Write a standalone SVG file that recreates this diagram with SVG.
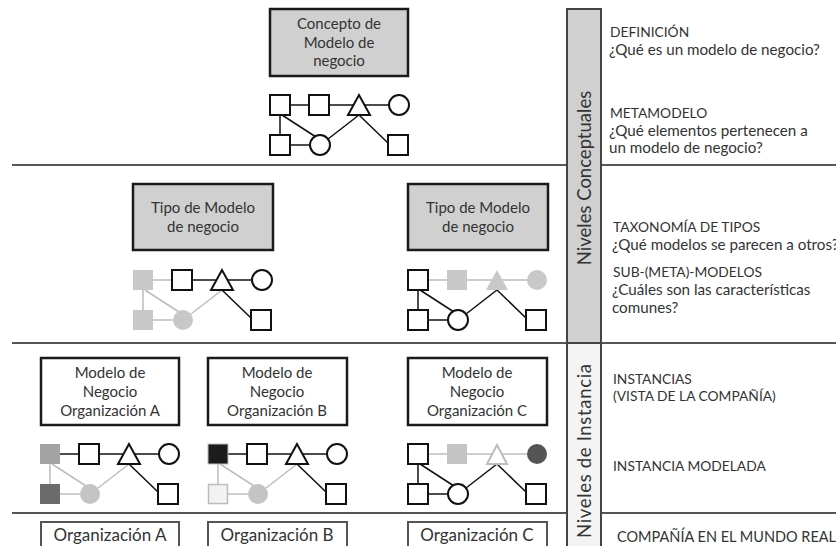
<svg xmlns="http://www.w3.org/2000/svg" width="836" height="546" viewBox="0 0 836 546">
  <style>
    text { font-family: Lato, "Open Sans", "Liberation Sans", sans-serif; fill: #333; }
    .bt { font-size: 15px; text-anchor: middle; }
    .rt { font-size: 13.8px; }
    .rq { font-size: 15.2px; }
    .vt { font-size: 18.5px; text-anchor: middle; }
    .ot { font-size: 17px; text-anchor: middle; }
    .sep { stroke: #555; stroke-width: 2; }
    .box { stroke: #1a1a1a; stroke-width: 2.5; }
    .gbox { fill: #d0d0d0; }
    .wbox { fill: #fff; }
    .obox { fill: #fff; stroke: #555; stroke-width: 2; }
    .k { fill: #fff; stroke: #111; stroke-width: 2; }
    .kl { stroke: #111; stroke-width: 1.5; fill: none; }
    .gl { stroke: #bdbdbd; stroke-width: 1.5; fill: none; }
  </style>

  <!-- level separators -->
  <g id="separators">
    <line class="sep" x1="12" y1="165" x2="836" y2="165"/>
    <line class="sep" x1="12" y1="343" x2="836" y2="343"/>
    <line class="sep" x1="12" y1="513" x2="836" y2="513"/>
  </g>

  <!-- vertical level bars -->
  <g id="bar-conceptual">
    <rect x="567" y="9" width="34" height="334" fill="#d0d0d0" stroke="#444" stroke-width="2"/>
    <text class="vt" transform="translate(591,178) rotate(-90)">Niveles Conceptuales</text>
  </g>
  <g id="bar-instance">
    <rect x="567" y="343" width="34" height="210" fill="#f4f4f4" stroke="#444" stroke-width="2"/>
    <text class="vt" transform="translate(591,451) rotate(-90)" textLength="174" lengthAdjust="spacing">Niveles de Instancia</text>
  </g>

  <!-- level descriptions -->
  <g id="descriptions">
    <text class="rt" x="610" y="37">DEFINICIÓN</text>
    <text class="rq" x="609" y="55">¿Qué es un modelo de negocio?</text>
    <text class="rt" x="610" y="118">METAMODELO</text>
    <text class="rq" x="609" y="136">¿Qué elementos pertenecen a</text>
    <text class="rq" x="609" y="153">un modelo de negocio?</text>
    <text class="rt" x="613" y="232">TAXONOMÍA DE TIPOS</text>
    <text class="rq" x="612" y="250">¿Qué modelos se parecen a otros?</text>
    <text class="rt" x="613" y="277">SUB-(META)-MODELOS</text>
    <text class="rq" x="612" y="295">¿Cuáles son las características</text>
    <text class="rq" x="612" y="313">comunes?</text>
    <text class="rt" x="613" y="384">INSTANCIAS</text>
    <text class="rt" x="613" y="401">(VISTA DE LA COMPAÑÍA)</text>
    <text class="rt" x="613" y="471">INSTANCIA MODELADA</text>
    <text class="rt" x="617" y="542" style="font-size:14.5px">COMPAÑÍA EN EL MUNDO REAL</text>
  </g>

  <!-- definition -->
  <g id="concepto">
    <rect class="box gbox" x="270" y="9" width="138" height="67"/>
    <text class="bt" x="339" y="29">Concepto de</text>
    <text class="bt" x="339" y="48">Modelo de</text>
    <text class="bt" x="339" y="66">negocio</text>
  </g>

  <!-- metamodel -->
  <g id="metamodelo" transform="translate(270,95)">
    <g class="kl">
      <line x1="20" y1="10" x2="39" y2="10"/>
      <line x1="59" y1="10" x2="84" y2="10"/>
      <line x1="94" y1="10" x2="119" y2="10"/>
      <line x1="10" y1="20" x2="10" y2="40"/>
      <line x1="12" y1="20" x2="46" y2="42"/>
      <line x1="20" y1="50" x2="40" y2="50"/>
      <line x1="58" y1="44" x2="89" y2="20"/>
      <line x1="89" y1="20" x2="118" y2="48"/>
    </g>
    <rect class="k" x="0" y="0" width="20" height="20"/>
    <rect class="k" x="39" y="0" width="20" height="20"/>
    <polygon class="k" points="89,0 78,20 100,20"/>
    <circle class="k" cx="129" cy="10" r="10"/>
    <rect class="k" x="0" y="40" width="20" height="20"/>
    <circle class="k" cx="50" cy="50" r="10"/>
    <rect class="k" x="118" y="40" width="20" height="20"/>
  </g>

  <!-- model types -->
  <g id="tipo-1">
    <rect class="box gbox" x="133" y="184" width="140" height="66"/>
    <text class="bt" x="203" y="213">Tipo de Modelo</text>
    <text class="bt" x="203" y="232">de negocio</text>
  </g>
  <g id="tipo-1-modelo" transform="translate(133,270)">
    <g class="gl">
      <line x1="20" y1="10" x2="39" y2="10"/>
      <line x1="10" y1="20" x2="10" y2="40"/>
      <line x1="12" y1="20" x2="46" y2="42"/>
      <line x1="20" y1="50" x2="40" y2="50"/>
      <line x1="58" y1="44" x2="89" y2="20"/>
    </g>
    <g class="kl">
      <line x1="59" y1="10" x2="84" y2="10"/>
      <line x1="94" y1="10" x2="119" y2="10"/>
      <line x1="89" y1="20" x2="118" y2="48"/>
    </g>
    <rect x="0" y="0" width="20" height="20" fill="#c8c8c8"/>
    <rect class="k" x="39" y="0" width="20" height="20"/>
    <polygon class="k" points="89,0 78,20 100,20"/>
    <circle class="k" cx="129" cy="10" r="10"/>
    <rect x="0" y="40" width="20" height="20" fill="#c8c8c8"/>
    <circle cx="50" cy="50" r="10" fill="#c8c8c8"/>
    <rect class="k" x="118" y="40" width="20" height="20"/>
  </g>

  <g id="tipo-2">
    <rect class="box gbox" x="408" y="184" width="140" height="66"/>
    <text class="bt" x="478" y="213">Tipo de Modelo</text>
    <text class="bt" x="478" y="232">de negocio</text>
  </g>
  <g id="tipo-2-modelo" transform="translate(408,270)">
    <g class="gl">
      <line x1="20" y1="10" x2="39" y2="10"/>
      <line x1="59" y1="10" x2="84" y2="10"/>
      <line x1="94" y1="10" x2="119" y2="10"/>
    </g>
    <g class="kl">
      <line x1="10" y1="20" x2="10" y2="40"/>
      <line x1="12" y1="20" x2="46" y2="42"/>
      <line x1="20" y1="50" x2="40" y2="50"/>
      <line x1="58" y1="44" x2="89" y2="20"/>
      <line x1="89" y1="20" x2="118" y2="48"/>
    </g>
    <rect class="k" x="0" y="0" width="20" height="20"/>
    <rect x="39" y="0" width="20" height="20" fill="#c8c8c8"/>
    <polygon points="89,0 78,20 100,20" fill="#c8c8c8"/>
    <circle cx="129" cy="10" r="10" fill="#c8c8c8"/>
    <rect class="k" x="0" y="40" width="20" height="20"/>
    <circle class="k" cx="50" cy="50" r="10"/>
    <rect class="k" x="118" y="40" width="20" height="20"/>
  </g>

  <!-- company models -->
  <g id="modelo-a">
    <rect class="box wbox" x="41" y="358" width="138" height="67"/>
    <text class="bt" x="110" y="378">Modelo de</text>
    <text class="bt" x="110" y="397">Negocio</text>
    <text class="bt" x="110" y="416">Organización A</text>
  </g>
  <g id="modelo-a-instancia" transform="translate(40,444)">
    <g class="gl">
      <line x1="10" y1="20" x2="10" y2="40"/>
      <line x1="12" y1="20" x2="46" y2="42"/>
      <line x1="20" y1="50" x2="40" y2="50"/>
      <line x1="58" y1="44" x2="89" y2="20"/>
    </g>
    <g class="kl">
      <line x1="20" y1="10" x2="39" y2="10"/>
      <line x1="59" y1="10" x2="84" y2="10"/>
      <line x1="94" y1="10" x2="119" y2="10"/>
      <line x1="89" y1="20" x2="118" y2="48"/>
    </g>
    <rect x="0" y="0" width="20" height="20" fill="#a3a3a3"/>
    <rect class="k" x="39" y="0" width="20" height="20"/>
    <polygon class="k" points="89,0 78,20 100,20"/>
    <circle class="k" cx="129" cy="10" r="10"/>
    <rect x="0" y="40" width="20" height="20" fill="#6b6b6b"/>
    <circle cx="50" cy="50" r="10" fill="#c4c4c4"/>
    <rect class="k" x="118" y="40" width="20" height="20"/>
  </g>

  <g id="modelo-b">
    <rect class="box wbox" x="208" y="358" width="139" height="67"/>
    <text class="bt" x="277" y="378">Modelo de</text>
    <text class="bt" x="277" y="397">Negocio</text>
    <text class="bt" x="277" y="416">Organización B</text>
  </g>
  <g id="modelo-b-instancia" transform="translate(208,444)">
    <g class="gl">
      <line x1="10" y1="20" x2="10" y2="40"/>
      <line x1="12" y1="20" x2="46" y2="42"/>
      <line x1="20" y1="50" x2="40" y2="50"/>
      <line x1="58" y1="44" x2="89" y2="20"/>
    </g>
    <g class="kl">
      <line x1="20" y1="10" x2="39" y2="10"/>
      <line x1="59" y1="10" x2="84" y2="10"/>
      <line x1="94" y1="10" x2="119" y2="10"/>
      <line x1="89" y1="20" x2="118" y2="48"/>
    </g>
    <rect x="0" y="0" width="20" height="20" fill="#1c1c1c" stroke="#bdbdbd" stroke-width="1"/>
    <rect class="k" x="39" y="0" width="20" height="20"/>
    <polygon class="k" points="89,0 78,20 100,20"/>
    <circle class="k" cx="129" cy="10" r="10"/>
    <rect x="0.5" y="40.5" width="19" height="19" fill="#f2f2f2" stroke="#bdbdbd" stroke-width="1.5"/>
    <circle cx="50" cy="50" r="10" fill="#c4c4c4"/>
    <rect class="k" x="118" y="40" width="20" height="20"/>
  </g>

  <g id="modelo-c">
    <rect class="box wbox" x="408" y="358" width="139" height="67"/>
    <text class="bt" x="477" y="378">Modelo de</text>
    <text class="bt" x="477" y="397">Negocio</text>
    <text class="bt" x="477" y="416">Organización C</text>
  </g>
  <g id="modelo-c-instancia" transform="translate(408,444)">
    <g class="gl">
      <line x1="20" y1="10" x2="39" y2="10"/>
      <line x1="59" y1="10" x2="84" y2="10"/>
      <line x1="94" y1="10" x2="119" y2="10"/>
    </g>
    <g class="kl">
      <line x1="10" y1="20" x2="10" y2="40"/>
      <line x1="12" y1="20" x2="46" y2="42"/>
      <line x1="20" y1="50" x2="40" y2="50"/>
      <line x1="58" y1="44" x2="89" y2="20"/>
      <line x1="89" y1="20" x2="118" y2="48"/>
    </g>
    <rect class="k" x="0" y="0" width="20" height="20"/>
    <rect x="39" y="0" width="20" height="20" fill="#c4c4c4"/>
    <polygon points="89,1 79,20 99,20" fill="#fff" stroke="#bdbdbd" stroke-width="2"/>
    <circle cx="129" cy="10" r="10" fill="#555"/>
    <rect class="k" x="0" y="40" width="20" height="20"/>
    <circle class="k" cx="50" cy="50" r="10"/>
    <rect class="k" x="118" y="40" width="20" height="20"/>
  </g>

  <!-- real-world companies -->
  <g id="org-a">
    <rect class="obox" x="41" y="522" width="138" height="30"/>
    <text class="ot" x="110" y="541">Organización A</text>
  </g>
  <g id="org-b">
    <rect class="obox" x="208" y="522" width="139" height="30"/>
    <text class="ot" x="277" y="541">Organización B</text>
  </g>
  <g id="org-c">
    <rect class="obox" x="408" y="522" width="139" height="30"/>
    <text class="ot" x="477" y="541">Organización C</text>
  </g>
</svg>
